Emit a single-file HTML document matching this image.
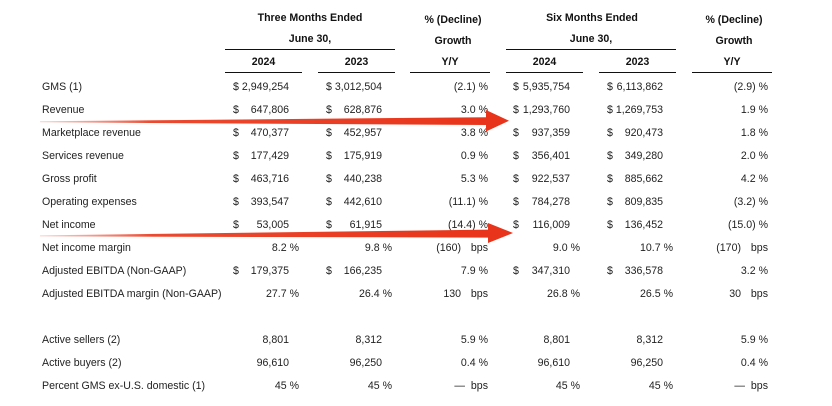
<!DOCTYPE html>
<html><head><meta charset="utf-8">
<style>
html,body{margin:0;padding:0;background:#fff;}
#c{position:relative;width:832px;height:406px;overflow:hidden;background:#fff;}
.t{position:absolute;font-family:"Liberation Sans",Arial,sans-serif;font-size:10.6px;line-height:14px;white-space:pre;color:#222;}
.b{font-weight:bold;color:#111;}
.ln{position:absolute;height:1px;background:#111;}
.c{text-align:center;}
</style></head><body><div id="c">

<!-- headers -->
<div class="t b c" style="left:225px;width:170px;top:11px;">Three Months Ended</div>
<div class="t b c" style="left:225px;width:170px;top:32px;">June 30,</div>
<div class="ln" style="left:225px;width:170px;top:49px;"></div>
<div class="t b c" style="left:225px;width:77px;top:55px;">2024</div>
<div class="t b c" style="left:318px;width:77px;top:55px;">2023</div>
<div class="ln" style="left:225px;width:77px;top:72px;"></div>
<div class="ln" style="left:318px;width:77px;top:72px;"></div>

<div class="t b c" style="left:410px;width:86px;top:13px;">% (Decline)</div>
<div class="t b c" style="left:410px;width:86px;top:34px;">Growth</div>
<div class="t b c" style="left:410px;width:80px;top:55px;">Y/Y</div>
<div class="ln" style="left:410px;width:80px;top:72px;"></div>

<div class="t b c" style="left:506px;width:172px;top:11px;">Six Months Ended</div>
<div class="t b c" style="left:506px;width:170px;top:32px;">June 30,</div>
<div class="ln" style="left:506px;width:170px;top:49px;"></div>
<div class="t b c" style="left:506px;width:77px;top:55px;">2024</div>
<div class="t b c" style="left:599px;width:77px;top:55px;">2023</div>
<div class="ln" style="left:506px;width:77px;top:72px;"></div>
<div class="ln" style="left:599px;width:77px;top:72px;"></div>

<div class="t b c" style="left:692px;width:84px;top:13px;">% (Decline)</div>
<div class="t b c" style="left:692px;width:84px;top:34px;">Growth</div>
<div class="t b c" style="left:692px;width:80px;top:55px;">Y/Y</div>
<div class="ln" style="left:692px;width:80px;top:72px;"></div>

<!-- labels -->
<div class="t" style="left:42px;top:80px;">GMS (1)</div>
<div class="t" style="left:42px;top:103px;">Revenue</div>
<div class="t" style="left:42px;top:126px;">Marketplace revenue</div>
<div class="t" style="left:42px;top:149px;">Services revenue</div>
<div class="t" style="left:42px;top:172px;">Gross profit</div>
<div class="t" style="left:42px;top:195px;">Operating expenses</div>
<div class="t" style="left:42px;top:218px;">Net income</div>
<div class="t" style="left:42px;top:241px;">Net income margin</div>
<div class="t" style="left:42px;top:264px;">Adjusted EBITDA (Non-GAAP)</div>
<div class="t" style="left:42px;top:287px;">Adjusted EBITDA margin (Non-GAAP)</div>
<div class="t" style="left:42px;top:333px;">Active sellers (2)</div>
<div class="t" style="left:42px;top:356px;">Active buyers (2)</div>
<div class="t" style="left:42px;top:379px;">Percent GMS ex-U.S. domestic (1)</div>

<!-- Row GMS -->
<div class="t" style="left:233px;top:80px;">$</div><div class="t" style="right:543px;top:80px;">2,949,254</div>
<div class="t" style="left:326px;top:80px;">$</div><div class="t" style="right:450px;top:80px;">3,012,504</div>
<div class="t" style="right:344px;top:80px;">(2.1) %</div>
<div class="t" style="left:513px;top:80px;">$</div><div class="t" style="right:262px;top:80px;">5,935,754</div>
<div class="t" style="left:607px;top:80px;">$</div><div class="t" style="right:169px;top:80px;">6,113,862</div>
<div class="t" style="right:64px;top:80px;">(2.9) %</div>

<!-- Revenue -->
<div class="t" style="left:233px;top:103px;">$</div><div class="t" style="right:543px;top:103px;">647,806</div>
<div class="t" style="left:326px;top:103px;">$</div><div class="t" style="right:450px;top:103px;">628,876</div>
<div class="t" style="right:344px;top:103px;">3.0 %</div>
<div class="t" style="left:513px;top:103px;">$</div><div class="t" style="right:262px;top:103px;">1,293,760</div>
<div class="t" style="left:607px;top:103px;">$</div><div class="t" style="right:169px;top:103px;">1,269,753</div>
<div class="t" style="right:64px;top:103px;">1.9 %</div>

<!-- Marketplace -->
<div class="t" style="left:233px;top:126px;">$</div><div class="t" style="right:543px;top:126px;">470,377</div>
<div class="t" style="left:326px;top:126px;">$</div><div class="t" style="right:450px;top:126px;">452,957</div>
<div class="t" style="right:344px;top:126px;">3.8 %</div>
<div class="t" style="left:513px;top:126px;">$</div><div class="t" style="right:262px;top:126px;">937,359</div>
<div class="t" style="left:607px;top:126px;">$</div><div class="t" style="right:169px;top:126px;">920,473</div>
<div class="t" style="right:64px;top:126px;">1.8 %</div>

<!-- Services -->
<div class="t" style="left:233px;top:149px;">$</div><div class="t" style="right:543px;top:149px;">177,429</div>
<div class="t" style="left:326px;top:149px;">$</div><div class="t" style="right:450px;top:149px;">175,919</div>
<div class="t" style="right:344px;top:149px;">0.9 %</div>
<div class="t" style="left:513px;top:149px;">$</div><div class="t" style="right:262px;top:149px;">356,401</div>
<div class="t" style="left:607px;top:149px;">$</div><div class="t" style="right:169px;top:149px;">349,280</div>
<div class="t" style="right:64px;top:149px;">2.0 %</div>

<!-- Gross profit -->
<div class="t" style="left:233px;top:172px;">$</div><div class="t" style="right:543px;top:172px;">463,716</div>
<div class="t" style="left:326px;top:172px;">$</div><div class="t" style="right:450px;top:172px;">440,238</div>
<div class="t" style="right:344px;top:172px;">5.3 %</div>
<div class="t" style="left:513px;top:172px;">$</div><div class="t" style="right:262px;top:172px;">922,537</div>
<div class="t" style="left:607px;top:172px;">$</div><div class="t" style="right:169px;top:172px;">885,662</div>
<div class="t" style="right:64px;top:172px;">4.2 %</div>

<!-- Opex -->
<div class="t" style="left:233px;top:195px;">$</div><div class="t" style="right:543px;top:195px;">393,547</div>
<div class="t" style="left:326px;top:195px;">$</div><div class="t" style="right:450px;top:195px;">442,610</div>
<div class="t" style="right:344px;top:195px;">(11.1) %</div>
<div class="t" style="left:513px;top:195px;">$</div><div class="t" style="right:262px;top:195px;">784,278</div>
<div class="t" style="left:607px;top:195px;">$</div><div class="t" style="right:169px;top:195px;">809,835</div>
<div class="t" style="right:64px;top:195px;">(3.2) %</div>

<!-- Net income -->
<div class="t" style="left:233px;top:218px;">$</div><div class="t" style="right:543px;top:218px;">53,005</div>
<div class="t" style="left:326px;top:218px;">$</div><div class="t" style="right:450px;top:218px;">61,915</div>
<div class="t" style="right:344px;top:218px;">(14.4) %</div>
<div class="t" style="left:513px;top:218px;">$</div><div class="t" style="right:262px;top:218px;">116,009</div>
<div class="t" style="left:607px;top:218px;">$</div><div class="t" style="right:169px;top:218px;">136,452</div>
<div class="t" style="right:64px;top:218px;">(15.0) %</div>

<!-- NI margin -->
<div class="t" style="right:533px;top:241px;">8.2 %</div>
<div class="t" style="right:440px;top:241px;">9.8 %</div>
<div class="t" style="right:371px;top:241px;">(160)</div><div class="t" style="right:344px;top:241px;">bps</div>
<div class="t" style="right:252px;top:241px;">9.0 %</div>
<div class="t" style="right:159px;top:241px;">10.7 %</div>
<div class="t" style="right:91px;top:241px;">(170)</div><div class="t" style="right:64px;top:241px;">bps</div>

<!-- Adj EBITDA -->
<div class="t" style="left:233px;top:264px;">$</div><div class="t" style="right:543px;top:264px;">179,375</div>
<div class="t" style="left:326px;top:264px;">$</div><div class="t" style="right:450px;top:264px;">166,235</div>
<div class="t" style="right:344px;top:264px;">7.9 %</div>
<div class="t" style="left:513px;top:264px;">$</div><div class="t" style="right:262px;top:264px;">347,310</div>
<div class="t" style="left:607px;top:264px;">$</div><div class="t" style="right:169px;top:264px;">336,578</div>
<div class="t" style="right:64px;top:264px;">3.2 %</div>

<!-- Adj margin -->
<div class="t" style="right:533px;top:287px;">27.7 %</div>
<div class="t" style="right:440px;top:287px;">26.4 %</div>
<div class="t" style="right:371px;top:287px;">130</div><div class="t" style="right:344px;top:287px;">bps</div>
<div class="t" style="right:252px;top:287px;">26.8 %</div>
<div class="t" style="right:159px;top:287px;">26.5 %</div>
<div class="t" style="right:91px;top:287px;">30</div><div class="t" style="right:64px;top:287px;">bps</div>

<!-- Active sellers -->
<div class="t" style="right:543px;top:333px;">8,801</div>
<div class="t" style="right:450px;top:333px;">8,312</div>
<div class="t" style="right:344px;top:333px;">5.9 %</div>
<div class="t" style="right:262px;top:333px;">8,801</div>
<div class="t" style="right:169px;top:333px;">8,312</div>
<div class="t" style="right:64px;top:333px;">5.9 %</div>

<!-- Active buyers -->
<div class="t" style="right:543px;top:356px;">96,610</div>
<div class="t" style="right:450px;top:356px;">96,250</div>
<div class="t" style="right:344px;top:356px;">0.4 %</div>
<div class="t" style="right:262px;top:356px;">96,610</div>
<div class="t" style="right:169px;top:356px;">96,250</div>
<div class="t" style="right:64px;top:356px;">0.4 %</div>

<!-- Percent GMS -->
<div class="t" style="right:533px;top:379px;">45 %</div>
<div class="t" style="right:440px;top:379px;">45 %</div>
<div class="t" style="right:367px;top:379px;">—</div><div class="t" style="right:344px;top:379px;">bps</div>
<div class="t" style="right:252px;top:379px;">45 %</div>
<div class="t" style="right:159px;top:379px;">45 %</div>
<div class="t" style="right:87px;top:379px;">—</div><div class="t" style="right:64px;top:379px;">bps</div>

<!-- arrows -->
<svg width="832" height="406" style="position:absolute;left:0;top:0;" xmlns="http://www.w3.org/2000/svg">
<defs>
<linearGradient id="g" x1="0" x2="1" y1="0" y2="0">
<stop offset="0" stop-color="#f07a6a" stop-opacity="0.35"/>
<stop offset="0.25" stop-color="#ea4a30"/>
<stop offset="1" stop-color="#e8341a"/>
</linearGradient>
</defs>
<polygon points="40,121.3 488,117.2 488,125 40,122.3" fill="url(#g)"/>
<polygon points="486,110 509,120.8 486,131.5" fill="#e8341a"/>
<polygon points="40,235.4 490,229.6 490,237.6 40,236.4" fill="url(#g)"/>
<polygon points="488,223 513,233 488,243" fill="#e8341a"/>
</svg>

</div></body></html>
